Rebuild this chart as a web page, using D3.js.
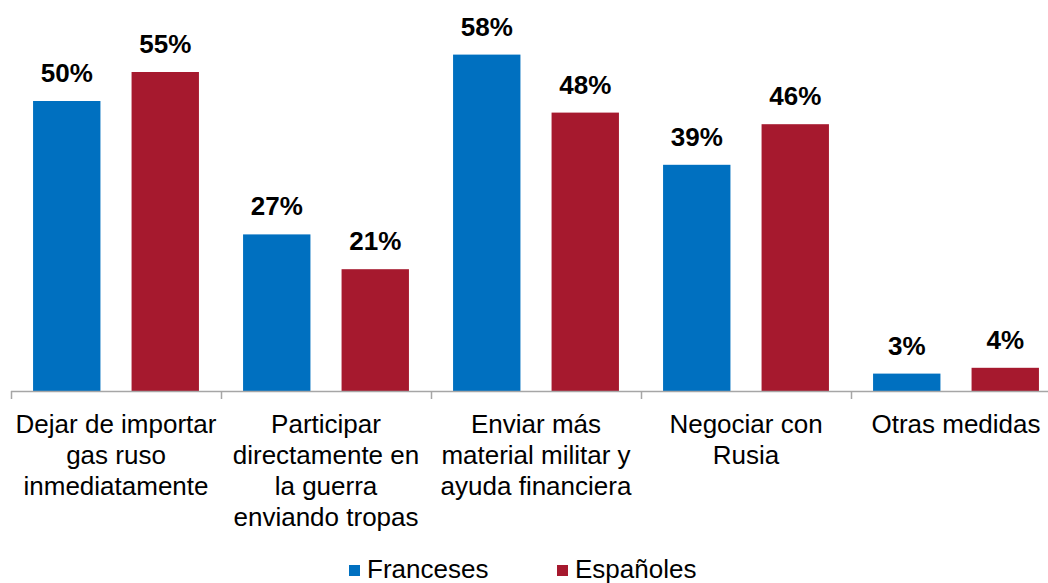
<!DOCTYPE html>
<html>
<head>
<meta charset="utf-8">
<script src="https://cdn.jsdelivr.net/npm/d3@7"></script>
<style>
  body { margin: 0; background: #fff; }
  svg { display: block; font-family: "Liberation Sans", Arial, sans-serif; }
</style>
</head>
<body>
<svg width="1048" height="583"></svg>
<script>
// data
var categories = [
  ["Dejar de importar", "gas ruso", "inmediatamente"],
  ["Participar", "directamente en", "la guerra", "enviando tropas"],
  ["Enviar más", "material militar y", "ayuda financiera"],
  ["Negociar con", "Rusia"],
  ["Otras medidas"]
];
var franceses = [50, 27, 58, 39, 3];
var espanoles = [55, 21, 48, 46, 4];
var seriesNames = ["Franceses", "Españoles"];
var colors = ["#0070C0", "#A6192E"];

var svg = d3.select("svg"),
    width = 1048;

// plot runs past the right edge of the picture, like the original
var x0 = d3.scaleBand()
    .domain(d3.range(categories.length))
    .range([11, 1061])
    .paddingInner(0)
    .paddingOuter(0);

var x1 = d3.scaleBand()
    .domain([0, 1])
    .range([0, x0.bandwidth()])
    .paddingInner(0.316)
    .paddingOuter(0.224);

var y = d3.scaleLinear()
    .domain([0, 100])
    .range([391, 391 - 580]);

var series = [franceses, espanoles];

//////////// BARS ////////////
var groups = svg.selectAll(".grp")
    .data(categories)
    .enter().append("g")
    .attr("class", "grp")
    .attr("transform", function(d, i) { return "translate(" + x0(i) + ",0)"; });

groups.selectAll("rect")
    .data(function(d, i) { return series.map(function(s, k) { return {k: k, v: s[i]}; }); })
    .enter().append("rect")
    .attr("x", function(d) { return x1(d.k); })
    .attr("width", x1.bandwidth())
    .attr("y", function(d) { return y(d.v); })
    .attr("height", function(d) { return y(0) - y(d.v); })
    .attr("fill", function(d) { return colors[d.k]; });

groups.selectAll(".val")
    .data(function(d, i) { return series.map(function(s, k) { return {k: k, v: s[i]}; }); })
    .enter().append("text")
    .attr("class", "val")
    .attr("x", function(d) { return x1(d.k) + x1.bandwidth() / 2; })
    .attr("y", function(d) { return y(d.v) - 19; })
    .attr("text-anchor", "middle")
    .style("font-size", "26px")
    .style("font-weight", "bold")
    .style("fill", "#000")
    .text(function(d) { return d.v + "%"; });

//////////// AXIS ////////////
var axis = svg.append("g");
axis.append("line")
    .attr("x1", x0.range()[0]).attr("x2", x0.range()[1])
    .attr("y1", y(0) + 0.5).attr("y2", y(0) + 0.5)
    .style("stroke", "#a6a6a6").style("stroke-width", 1.5);
axis.selectAll(".tick")
    .data(d3.range(categories.length + 1))
    .enter().append("line")
    .attr("x1", function(d) { return x0.range()[0] + d * x0.step() + 0.5; })
    .attr("x2", function(d) { return x0.range()[0] + d * x0.step() + 0.5; })
    .attr("y1", y(0)).attr("y2", y(0) + 8)
    .style("stroke", "#a6a6a6").style("stroke-width", 1.5);

// category labels, kept inside the picture
var labels = svg.selectAll(".cat")
    .data(categories)
    .enter().append("text")
    .attr("class", "cat")
    .attr("text-anchor", "middle")
    .attr("x", function(d, i) { return x0(i) + x0.bandwidth() / 2; })
    .attr("y", 433)
    .style("font-size", "26px")
    .style("fill", "#000");
labels.selectAll("tspan")
    .data(function(d) { return d; })
    .enter().append("tspan")
    .attr("x", function() { return d3.select(this.parentNode).attr("x"); })
    .attr("dy", function(d, j) { return j ? 31 : 0; })
    .text(function(d) { return d; });
labels.each(function() {
    var b = this.getBBox();
    var over = b.x + b.width - (width - 6);
    if (over > 0) {
        var nx = +d3.select(this).attr("x") - over;
        d3.select(this).attr("x", nx).selectAll("tspan").attr("x", nx);
    }
});

//////////// LEGEND ////////////
var legendX = [349, 557];
var legend = svg.selectAll(".leg")
    .data(seriesNames)
    .enter().append("g")
    .attr("class", "leg")
    .attr("transform", function(d, i) { return "translate(" + legendX[i] + ",565)"; });
legend.append("rect")
    .attr("width", 11).attr("height", 11)
    .attr("fill", function(d, i) { return colors[i]; });
legend.append("text")
    .attr("x", 18).attr("y", 13)
    .style("font-size", "26px")
    .text(function(d) { return d; });
</script>
</body>
</html>
